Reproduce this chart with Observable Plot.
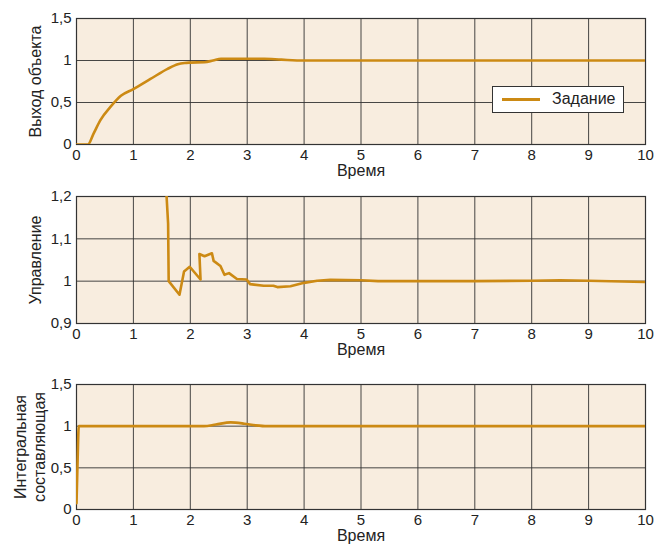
<!DOCTYPE html>
<html><head><meta charset="utf-8">
<script src="https://cdn.jsdelivr.net/npm/d3@7"></script>
<script src="https://cdn.jsdelivr.net/npm/@observablehq/plot@0.6"></script>
<style>
body{margin:0;background:#fff;font-family:"Liberation Sans",Arial,sans-serif}
#wrap{position:relative;width:656px;height:546px}
svg{display:block}
#legend{position:absolute;left:492px;top:86px;width:130px;height:25px;background:#fff;border:1.5px solid #333;box-sizing:content-box}
#legend .sw{position:absolute;left:9px;top:11px;width:38px;height:3px;background:#cc8a14}
#legend .lb{position:absolute;left:59px;top:3px;font-size:16px;color:#222}
</style>
</head><body><div id="wrap"></div>
<script>
const timeTicks = [0,1,2,3,4,5,6,7,8,9,10];
const axisTitle = "Время";
const legendLabel = "Задание";

const outLabel = "Выход объекта";
const outTicks = [0, 0.5, 1, 1.5];
const outT = [0, 0.2, 0.3, 0.42, 0.6, 0.78, 1.0, 1.3, 1.6, 1.78, 1.9, 2.0, 2.25, 2.4, 2.54, 3.3, 3.6, 4.0, 5, 6, 7, 8, 9, 10];
const outY = [0, 0, 0.13, 0.29, 0.45, 0.58, 0.66, 0.78, 0.9, 0.955, 0.97, 0.975, 0.98, 1.0, 1.02, 1.02, 1.01, 1.0, 1, 1, 1, 1, 1, 1];

const ctrlLabel = "Управление";
const ctrlTicks = [0.9, 1.0, 1.1, 1.2];
const ctrlT = [1.575, 1.61, 1.62, 1.81, 1.89, 1.99, 2.18, 2.16, 2.25, 2.38, 2.41, 2.53, 2.60, 2.68, 2.82, 2.99, 3.05, 3.29, 3.46, 3.53, 3.76, 4.0, 4.23, 4.46, 5.0, 5.3, 6, 7, 8, 8.5, 9, 10];
const ctrlY = [1.22, 1.136, 1.0, 0.968, 1.023, 1.034, 1.004, 1.064, 1.059, 1.066, 1.048, 1.036, 1.015, 1.019, 1.005, 1.004, 0.993, 0.989, 0.989, 0.986, 0.988, 0.996, 1.001, 1.003, 1.002, 1.0, 1.0, 1.0, 1.001, 1.002, 1.001, 0.998];

const intLabel = "Интегральная\nсоставляющая";
const intTicks = [0, 0.5, 1, 1.5];
const intT = [0, 0.02, 0.04, 2.24, 2.45, 2.71, 2.95, 3.15, 3.35, 4, 5, 6, 7, 8, 9, 10];
const intY = [0.075, 0.6, 1.0, 1.0, 1.02, 1.045, 1.03, 1.01, 1.0, 1, 1, 1, 1, 1, 1, 1];

const bg = "#f8eddf", grid = "#333", gold = "#cc8a14";
const fmt = d => String(+d.toFixed(2)).replace(".", ",");

function panel({t, y, ticks, label, height, marginTop, marginBottom, ydx, curve}) {
  const data = t.map((v, i) => ({t: v, y: y[i]}));
  return Plot.plot({
    width: 656, height, marginTop, marginBottom, marginLeft: 76, marginRight: 11,
    style: {fontSize: "15px", fontFamily: '"Liberation Sans", Arial, sans-serif', color: "#222", background: "transparent"},
    x: {domain: [0, 10], ticks: timeTicks, tickSize: 0, tickPadding: 5, tickFormat: fmt, label: null},
    y: {domain: [ticks[0], ticks[ticks.length - 1]], ticks, tickSize: 0, tickPadding: 5, tickFormat: fmt, label: null},
    marks: [
      Plot.frame({fill: bg, stroke: null}),
      Plot.gridX(timeTicks, {stroke: grid, strokeOpacity: 0.9}),
      Plot.gridY(ticks, {stroke: grid, strokeOpacity: 0.9}),
      Plot.frame({stroke: grid, strokeWidth: 1.2}),
      Plot.line(data, {x: "t", y: "y", stroke: gold, strokeWidth: 2.6, clip: true, curve: curve || "linear"}),
      Plot.text([axisTitle], {frameAnchor: "bottom", dy: 26, lineAnchor: "middle", fontSize: 16, fill: "#222"}),
      Plot.text([label], {frameAnchor: "left", rotate: -90, dx: ydx, lineAnchor: "middle", textAnchor: "middle", fontSize: 16, fill: "#222", lineHeight: 1.2})
    ]
  });
}

const wrap = document.getElementById("wrap");
wrap.append(panel({t: outT, y: outY, ticks: outTicks, label: outLabel, height: 182, marginTop: 18, marginBottom: 38, ydx: -42, curve: "monotone-x"}));
wrap.append(panel({t: ctrlT, y: ctrlY, ticks: ctrlTicks, label: ctrlLabel, height: 188, marginTop: 14, marginBottom: 47, ydx: -42}));
wrap.append(panel({t: intT, y: intY, ticks: intTicks, label: intLabel, height: 176, marginTop: 14, marginBottom: 37, ydx: -47, curve: "monotone-x"}));

const lg = document.createElement("div");
lg.id = "legend";
lg.innerHTML = '<div class="sw"></div><div class="lb"></div>';
lg.querySelector(".lb").textContent = legendLabel;
wrap.append(lg);
</script>
</body></html>
